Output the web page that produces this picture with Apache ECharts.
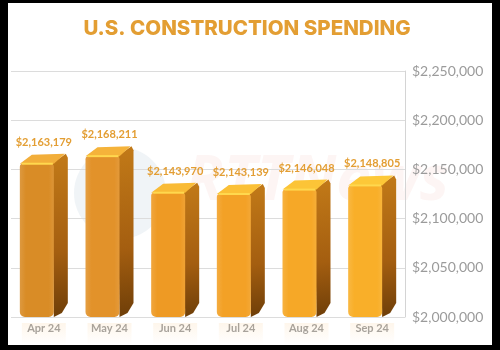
<!DOCTYPE html>
<html>
<head>
<meta charset="utf-8">
<script src="https://cdn.jsdelivr.net/npm/echarts@6/dist/echarts.min.js"></script>
<style>
  html, body { margin:0; padding:0; background:#000; width:500px; height:350px; overflow:hidden; }
  #chart { position:absolute; left:8px; top:3px; width:484px; height:342px; background:#fff; }
</style>
</head>
<body>
<div id="chart"></div>
<script>
var categories = ['Apr 24', 'May 24', 'Jun 24', 'Jul 24', 'Aug 24', 'Sep 24'];
var spending = [2163179, 2168211, 2143970, 2143139, 2146048, 2148805];
var yTicks = { min: 2000000, max: 2250000, interval: 50000 };

var frontColors = ['#D98C26', '#E2922A', '#EE9A24', '#F3A126', '#F6A827', '#F9AF29'];
var topColors = ['#F2AE3A', '#F5B33A', '#F9BB36', '#FBC036', '#FCC437', '#FDC838'];

function fmt(v) { return '$' + v.toLocaleString('en-US'); }

var chart = echarts.init(document.getElementById('chart'), null, { renderer: 'canvas' });

var option = {
  backgroundColor: '#fff',
  animation: false,
  title: {
    text: 'U.S. CONSTRUCTION SPENDING',
    left: 234, top: 10, textAlign: 'center',
    textStyle: { color: '#E39E33', fontSize: 20.5, fontWeight: 800, fontFamily: 'Inter' }
  },
  graphic: [
    { type: 'circle', shape: { cx: 112, cy: 190, r: 46 }, z: -10,
      style: { fill: 'rgba(150,175,200,0.14)' } },
    { type: 'text', left: 178, top: 148, z: -10,
      style: { text: 'RTTNews', fontSize: 62, fontWeight: 'bold', fontStyle: 'italic',
               fontFamily: 'Open Sans', fill: 'rgba(220,90,70,0.06)' } }
  ],
  grid: { left: 3, right: 87, top: 68, bottom: 28 },
  xAxis: {
    type: 'category', data: categories,
    axisLine: { show: false }, axisTick: { show: false },
    axisLabel: { color: '#a3a3a3', fontSize: 11, fontWeight: 'bold', fontFamily: 'Lato', margin: 6 }
  },
  yAxis: [{
    type: 'value', position: 'right',
    min: yTicks.min, max: yTicks.max, interval: yTicks.interval,
    axisLine: { show: true, lineStyle: { color: '#d4d4d4' } },
    axisTick: { show: false },
    splitLine: { lineStyle: { color: '#dcdcdc' } },
    axisLabel: { color: '#9b9b9b', fontSize: 14, fontFamily: 'Lato', margin: 7, formatter: fmt }
  }, {
    type: 'value', show: false, min: 2055000, max: 2218000,
    splitLine: { show: false }
  }],
  series: [{
    type: 'custom',
    yAxisIndex: 1,
    data: spending.map(function (v, i) { return [i, v]; }),
    renderItem: function (params, api) {
      var i = api.value(0), v = api.value(1);
      var p = api.coord([i, v]);
      var cx = p[0], ty = p[1];
      var base = params.coordSys.y + params.coordSys.height;
      var fc = frontColors[i], tc = topColors[i];
      var L = cx - 24, F = cx + 10, R = cx + 24, d = 10;
      return {
        type: 'group',
        children: [
          { type: 'rect', z2: 0,
            shape: { x: L + 2, y: base + 6, width: 44, height: 22 },
            style: { fill: new echarts.graphic.LinearGradient(0, 0, 0, 1, [
              { offset: 0, color: 'rgba(245,165,60,0.10)' },
              { offset: 1, color: 'rgba(245,165,60,0)' }]) } },
          { type: 'polygon', z2: 1,
            shape: { points: [[F - 2, ty + d], [R - 2, ty], [R, ty + 4], [R, base - 14], [R - 6, base - 4], [F, base]] },
            style: { fill: new echarts.graphic.LinearGradient(0, 0, 1, 1, [
              { offset: 0, color: '#C27A18' },
              { offset: 0.6, color: '#A45E10' },
              { offset: 1, color: '#6E3E08' }]) } },
          { type: 'rect', z2: 2,
            shape: { x: L, y: ty + d, width: 34, height: base - ty - d, r: [3, 3, 5, 5] },
            style: { fill: new echarts.graphic.LinearGradient(0, 0, 1, 0, [
              { offset: 0, color: echarts.color.lift(fc, 0.12) },
              { offset: 0.18, color: fc },
              { offset: 0.85, color: fc },
              { offset: 1, color: echarts.color.lift(fc, 0.08) }]) } },
          { type: 'polygon', z2: 3,
            shape: { points: [[L, ty + d], [L + 12, ty + 1], [R - 3, ty], [F, ty + d]] },
            style: { fill: tc } },
          { type: 'line', z2: 4,
            shape: { x1: L + 2, y1: ty + d, x2: F - 1, y2: ty + d },
            style: { stroke: '#FFD84E', lineWidth: 2 } },
          { type: 'text', z2: 5,
            style: { x: cx, y: ty - 6, text: fmt(v), align: 'center', verticalAlign: 'bottom',
                     fill: '#E39E33', fontSize: 11, fontWeight: 'bold', fontFamily: 'Lato' } }
        ]
      };
    }
  }]
};
chart.setOption(option);
</script>
</body>
</html>
